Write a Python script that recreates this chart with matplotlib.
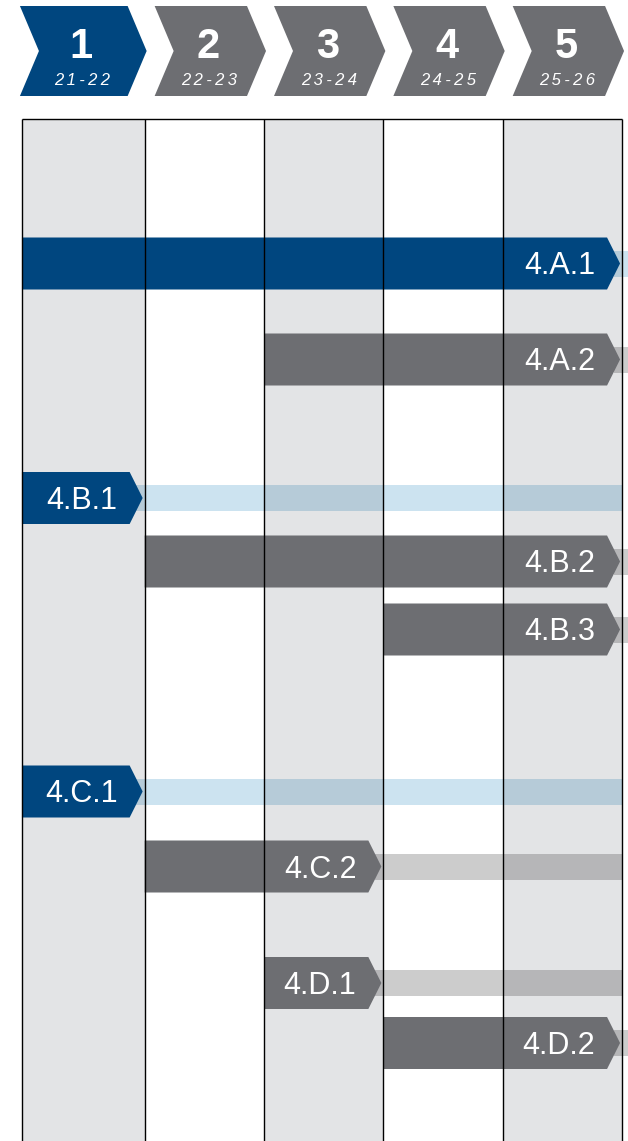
import matplotlib
matplotlib.use("Agg")
import matplotlib.pyplot as plt
from matplotlib.patches import Polygon, Rectangle

# ---------------- data ----------------
phases = ['1', '2', '3', '4', '5']
years = ['21-22', '22-23', '23-24', '24-25', '25-26']
tasks = ['4.A.1', '4.A.2', '4.B.1', '4.B.2', '4.B.3', '4.C.1', '4.C.2', '4.D.1', '4.D.2']
task_start = [0, 2, 0, 1, 3, 0, 1, 2, 3]
task_end = [5, 5, 1, 5, 5, 1, 3, 3, 5]
task_lead = [True, False, True, False, False, True, False, False, False]  # blue = lead task
current_phase = 0

# ---------------- layout / style ----------------
W, H = 628, 1141
PX = 119.35                      # pixels per year column
X0 = 25.3                        # pixel of year 0
GRID_LEFT = -0.028               # grid left border (year units)
row_y = [263.5, 359.5, 498, 561.5, 629.5, 791.5, 866.5, 983, 1043]
BAR_H = 52
BAND_H = 26
GRID_TOP = 119
TIP_DEPTH = 13 / PX
TIP_GAP = 2 / PX

BLUE = '#00467f'
GRAY = '#6d6e72'
COL_GRAY = '#e3e4e6'
BAND_BLUE = '#cce3f0'
BAND_GRAY = '#cccccc'
FONT = ['Liberation Sans', 'DejaVu Sans']


def mult(c1, c2):
    a = matplotlib.colors.to_rgb(c1)
    b = matplotlib.colors.to_rgb(c2)
    return tuple(x * y for x, y in zip(a, b))


fig = plt.figure(figsize=(W / 100, H / 100), dpi=100)
ax = fig.add_axes([0, 0, 1, 1])
ax.set_xlim(-X0 / PX, (W - X0) / PX)
ax.set_ylim(H, 0)
ax.axis('off')

ncol = len(phases)
col_edges = [GRID_LEFT] + list(range(1, ncol + 1))
col_bg = [COL_GRAY if i % 2 == 0 else 'white' for i in range(ncol)]

# column backgrounds
for i in range(ncol):
    ax.add_patch(Rectangle((col_edges[i], GRID_TOP), col_edges[i + 1] - col_edges[i],
                           H - GRID_TOP, facecolor=col_bg[i], edgecolor='none', zorder=0))

# header chevrons
CH_TOP, CH_BOT = 6, 96
CH_MID = (CH_TOP + CH_BOT) / 2
CH_DEPTH = 19 / PX
for i, (p, yr) in enumerate(zip(phases, years)):
    left = -0.045 if i == 0 else i + 10 / PX
    tip = i + 1 + 2 / PX
    pts = [(left, CH_TOP), (tip - CH_DEPTH, CH_TOP), (tip, CH_MID),
           (tip - CH_DEPTH, CH_BOT), (left, CH_BOT), (left + CH_DEPTH, CH_MID)]
    ax.add_patch(Polygon(pts, closed=True, facecolor=BLUE if i == current_phase else GRAY,
                         edgecolor='none', zorder=3))
    cx = (left + tip) / 2 - 2 / PX
    ax.text(cx, 58, p, color='white', fontsize=30, fontweight='bold', family=FONT,
            ha='center', va='baseline', zorder=4)
    ax.text(cx + 1 / PX, 85, '\u2009'.join(yr), color='white', fontsize=12, style='italic',
            family=FONT, ha='center', va='baseline', zorder=4)

# bands (continuations) - multiply-like blending over columns
for t, s, e, lead, y in zip(tasks, task_start, task_end, task_lead, row_y):
    band = BAND_BLUE if lead else BAND_GRAY
    b0 = e - TIP_GAP - TIP_DEPTH * 0.5
    # bands that start inside the grid stop at its right border;
    # arrows reaching the last column continue past the border
    b1 = (W - X0) / PX + 0.05 if e >= ncol else ncol
    edges = col_edges + [b1]
    for j in range(len(edges) - 1):
        a0, a1 = max(edges[j], b0), min(edges[j + 1], b1)
        if a1 <= a0:
            continue
        bg = col_bg[j] if j < ncol else 'white'
        ax.add_patch(Rectangle((a0, y - BAND_H / 2), a1 - a0, BAND_H,
                               facecolor=mult(band, bg), edgecolor='none', zorder=1))

# task arrows
for t, s, e, lead, y in zip(tasks, task_start, task_end, task_lead, row_y):
    x0 = GRID_LEFT if s == 0 else s
    tip = e - TIP_GAP
    body = tip - TIP_DEPTH
    top, bot = y - BAR_H / 2, y + BAR_H / 2
    pts = [(x0, top), (body, top), (tip, y), (body, bot), (x0, bot)]
    ax.add_patch(Polygon(pts, closed=True, facecolor=BLUE if lead else GRAY,
                         edgecolor='none', zorder=2))
    ax.text(body - 12 / PX, y + 11, t, color='white', fontsize=22, family=FONT,
            ha='right', va='baseline', zorder=5)

# grid lines
for xe in col_edges:
    ax.plot([xe, xe], [GRID_TOP, H], color='black', lw=1.0, zorder=6, solid_capstyle='butt')
ax.plot([GRID_LEFT, ncol], [GRID_TOP, GRID_TOP], color='black', lw=1.0, zorder=6,
        solid_capstyle='butt')

fig.savefig('out.png', dpi=100)
